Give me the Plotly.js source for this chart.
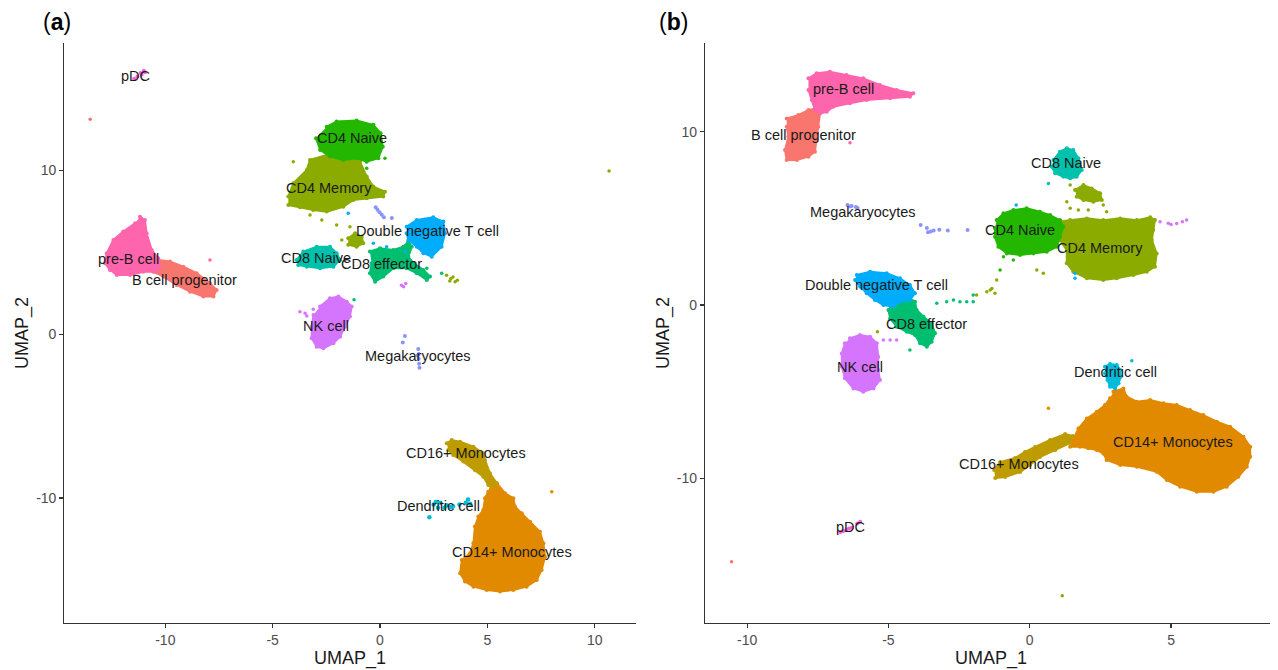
<!DOCTYPE html>
<html>
<head>
<meta charset="utf-8">
<script src="https://cdn.plot.ly/plotly-3.0.1.min.js"></script>
<style>html,body{margin:0;padding:0;background:#fff;}#chart{width:1278px;height:670px;}</style>
</head>
<body>
<div id="chart"></div>
<script>
// ---------------- Panel (a): cluster outlines (UMAP_1, UMAP_2) ----------------
const A_preB_x = [-11.18,-10.95,-10.87,-10.63,-10.33,-10.25,-10.48,-11.02,-11.64,-12.26,-12.58,-12.81,-12.73,-12.42,-11.96,-11.41];
const A_preB_y = [7.18,6.98,6.17,5.15,4.64,4.13,3.82,3.82,3.62,3.62,3.93,4.34,4.95,5.76,6.27,6.78];
const A_bprog_x = [-10.33,-9.78,-9.16,-8.54,-7.92,-7.61,-7.76,-8.23,-8.85,-9.47,-10.09,-10.56,-10.48];
const A_bprog_y = [4.54,4.44,4.13,3.73,3.12,2.71,2.30,2.30,2.60,3.01,3.52,3.82,4.23];
const A_cd4m_x = [-4.27,-4.04,-3.41,-3.26,-2.48,-1.71,-0.93,-0.62,-0.31,0.23,0.15,-0.62,-1.24,-1.71,-2.48,-3.11,-3.73,-4.27];
const A_cd4m_y = [8.41,9.22,10.04,10.65,10.95,10.85,10.54,9.63,9.02,8.71,8.41,8.31,8.20,7.79,7.49,7.59,7.76,7.90];
const A_cd4m2_x = [-1.48,-1.16,-0.85,-0.78,-1.09,-1.48];
const A_cd4m2_y = [5.86,6.17,5.96,5.56,5.35,5.46];
const A_cd4n_x = [-2.48,-2.02,-1.09,-0.31,0.03,0.13,-0.08,-0.62,-1.09,-1.71,-2.33,-2.79,-2.98];
const A_cd4n_y = [12.68,12.99,13.05,12.79,12.28,11.46,10.75,10.54,10.75,10.65,10.85,11.26,11.97];
const A_dnt_x = [1.24,1.71,2.48,2.95,3.03,2.87,2.41,2.02,1.71,1.32,1.24];
const A_dnt_y = [6.57,6.98,7.15,6.88,6.17,5.35,4.74,4.95,5.35,5.76,6.17];
const A_cd8e_x = [-0.47,0,0.62,1.09,1.32,1.48,1.32,1.55,2.02,2.33,2.18,1.71,1.24,0.62,0.15,-0.23,-0.47,-0.39];
const A_cd8e_y = [5.05,5.25,5.15,5.35,5.66,5.35,4.74,4.34,3.93,3.52,3.32,3.73,4.03,4.03,3.52,3.21,3.73,4.34];
const A_cd8n_x = [-3.88,-3.57,-2.95,-2.33,-2.02,-1.86,-2.17,-2.79,-3.41,-3.81];
const A_cd8n_y = [4.54,5.05,5.35,5.35,4.95,4.54,4.13,4.03,4.13,4.23];
const A_nk_x = [-2.79,-2.33,-1.94,-1.55,-1.32,-1.40,-1.63,-1.86,-2.17,-2.64,-2.95,-3.18,-3.18,-3.10];
const A_nk_y = [1.69,2.20,2.30,1.99,1.69,1.08,0.46,-0.15,-0.55,-0.86,-0.76,-0.24,0.46,1.18];
const A_cd16_x = [3.11,3.34,3.73,4.35,4.81,4.89,5.12,5.44,5.28,5.04,4.81,4.42,3.88,3.41,3.18];
const A_cd16_y = [-6.66,-6.46,-6.56,-6.87,-7.27,-7.68,-8.49,-9.10,-9.31,-9.21,-8.70,-8.29,-7.78,-7.37,-7.07];
const A_cd14_x = [5.12,5.44,5.82,6.21,6.29,6.60,6.99,7.45,7.61,7.69,7.53,7.30,6.83,6.21,5.59,4.97,4.35,3.96,3.73,3.81,4.19,4.35,4.42,4.58,4.81,4.89,5.04];
const A_cd14_y = [-9.21,-9.10,-9.71,-10.02,-10.53,-10.93,-11.45,-12.06,-12.77,-13.59,-14.40,-15.01,-15.42,-15.62,-15.72,-15.62,-15.42,-15.11,-14.60,-13.79,-13.38,-12.77,-11.75,-11.14,-10.73,-10.02,-9.62];
// small clusters and single cells (a)
const A_pdc_x = [-11.0,-11.15,-11.3,-11.1,-10.95,-11.45];
const A_pdc_y = [16.1,15.95,15.75,15.85,16.0,15.6];
const A_mega_x = [-0.2,-0.12,-0.02,0.08,0.18,0.55,1.16,1.06,1.78,1.80,1.80,1.82,1.84,1.75];
const A_mega_y = [7.75,7.6,7.45,7.3,7.15,7.1,-0.10,-0.51,-0.9,-1.2,-1.5,-1.8,-2.05,-1.3];
const A_dc_x = [2.5,2.8,3.1,3.4,3.7,4.0,4.2,2.7,3.3,2.3,4.1,2.6,3.0];
const A_dc_y = [-10.4,-10.3,-10.45,-10.5,-10.4,-10.3,-10.35,-10.6,-10.55,-11.18,-10.1,-10.25,-10.6];
const A_sOlive_x = [10.67,3.1,3.3,3.5,3.4,3.6,3.25,-3.26,-2.71,-2.02,-1.40,-1.78,-4.04];
const A_sOlive_y = [9.97,3.6,3.4,3.2,3.5,3.3,3.25,7.29,6.98,6.68,6.57,5.76,10.54];
const A_sCd4n_x = [0.23,-0.62];
const A_sCd4n_y = [10.75,10.14];
const A_sSalmon_x = [-13.5];
const A_sSalmon_y = [13.13];
const A_sPreB_x = [-7.92];
const A_sPreB_y = [4.54];
const A_sDnt_x = [-1.48,-0.31,0.31,1.16];
const A_sDnt_y = [7.39,5.56,5.35,5.05];
const A_sCd8e_x = [2.18,2.87,-1.21];
const A_sCd8e_y = [4.03,3.73,2.10];
const A_sNk_x = [1.0,1.2,1.1,-3.73,-3.49,-3.41,-3.11];
const A_sNk_y = [3.0,3.1,2.9,1.38,1.28,1.12,1.53];
const A_sOrange_x = [8.0];
const A_sOrange_y = [-9.62];
// labels (a)
const A_lab = ["pDC","CD4 Naive","CD4 Memory","Double negative T cell","pre-B cell","CD8 Naive","CD8 effector","B cell progenitor","NK cell","Megakaryocytes","CD16+ Monocytes","Dendritic cell","CD14+ Monocytes"];
const A_lab_x = [-11.41,-1.30,-2.38,2.19,-11.70,-2.98,0.05,-9.10,-2.50,1.77,4.01,2.72,6.16];
const A_lab_y = [15.78,12.0,8.93,6.31,4.62,4.66,4.29,3.34,0.52,-1.32,-7.26,-10.48,-13.31];

// ---------------- Panel (b) ----------------
const B_preB_x = [-7.83,-7.54,-7.07,-6.48,-5.89,-5.30,-4.71,-4.12,-4.24,-4.94,-5.77,-6.36,-6.95,-7.18,-7.42,-7.60,-7.71,-7.83];
const B_preB_y = [13.08,13.37,13.46,13.27,13.08,12.70,12.41,12.22,12.02,11.93,11.83,11.64,11.44,11.15,11.06,11.25,11.83,12.41];
const B_bprog_x = [-8.60,-8.19,-7.83,-7.54,-7.42,-7.48,-7.54,-7.60,-7.83,-8.24,-8.60,-8.66,-8.54,-8.60];
const B_bprog_y = [10.77,10.96,11.25,11.35,11.06,10.29,9.52,8.85,8.56,8.37,8.37,8.94,9.71,10.29];
const B_cd8n_x = [0.84,1.07,1.31,1.54,1.72,1.84,1.66,1.43,1.19,0.90,0.78];
const B_cd8n_y = [8.37,8.85,9.04,8.94,8.47,7.79,7.40,7.31,7.40,7.60,7.98];
const B_cd4m2_x = [1.60,1.90,2.19,2.49,2.55,2.25,1.90,1.66];
const B_cd4m2_y = [6.64,6.92,6.73,6.45,6.06,5.96,6.06,6.25];
const B_cd4m_x = [0.96,1.43,2.02,2.60,3.20,3.79,4.26,4.43,4.37,4.32,4.49,4.43,4.14,3.67,3.08,2.60,2.02,1.54,1.31,1.31,1.07,0.90];
const B_cd4m_y = [4.81,4.90,5.00,4.90,5.00,4.90,5.06,4.90,4.33,3.75,2.98,2.21,1.92,1.73,1.54,1.44,1.54,1.92,2.41,3.17,3.75,4.33];
const B_cd4n_x = [-1.17,-0.93,-0.58,-0.11,0.36,0.72,1.07,1.19,1.07,0.96,0.60,0.13,-0.34,-0.81,-1.11,-1.23,-1.23];
const B_cd4n_y = [4.90,5.29,5.48,5.58,5.38,5.19,4.90,4.52,3.94,3.36,3.08,2.98,2.89,2.98,3.36,3.94,4.43];
const B_dnt_x = [-6.12,-5.65,-5.06,-4.59,-4.24,-4.06,-4.24,-4.59,-4.83,-5.18,-5.48,-5.77,-6.00,-6.18];
const B_dnt_y = [1.73,1.92,1.83,1.54,1.15,0.68,0.29,0.19,-0.10,0,0.29,0.68,1.06,1.44];
const B_cd8e_x = [-4.94,-4.59,-4.24,-4.06,-4.00,-3.76,-3.47,-3.35,-3.47,-3.64,-3.88,-4.06,-4.35,-4.71,-4.94,-5.00];
const B_cd8e_y = [0.10,0.29,0.39,0.19,-0.29,-0.68,-1.06,-1.63,-2.12,-2.41,-2.21,-1.73,-1.54,-1.25,-0.77,-0.29];
const B_nk_x = [-6.36,-6.01,-5.65,-5.41,-5.36,-5.36,-5.30,-5.53,-5.89,-6.24,-6.54,-6.65,-6.65,-6.54];
const B_nk_y = [-1.92,-1.73,-1.83,-2.21,-2.98,-3.75,-4.33,-4.81,-5.00,-4.81,-4.23,-3.56,-2.79,-2.21];
const B_dc_x = [2.66,2.84,3.08,3.20,3.22,3.14,3.02,2.84,2.75,2.66];
const B_dc_y = [-3.56,-3.40,-3.46,-3.75,-4.14,-4.52,-4.81,-4.71,-4.33,-3.94];
const B_cd14_x = [2.96,3.31,3.43,3.79,4.26,4.73,5.20,5.67,6.14,6.62,7.09,7.56,7.80,7.80,7.68,7.38,6.97,6.50,5.91,5.32,4.85,4.49,3.79,3.20,2.72,2.60,2.37,2.07,1.78,1.43,1.54,1.72,2.02,2.37,2.66,2.84];
const B_cd14_y = [-5.00,-4.81,-5.29,-5.58,-5.48,-5.67,-5.77,-6.06,-6.35,-6.73,-7.02,-7.60,-8.18,-8.75,-9.33,-9.91,-10.48,-10.77,-10.77,-10.48,-10.10,-9.62,-9.33,-9.23,-8.94,-8.56,-8.37,-8.27,-8.18,-8.18,-7.79,-7.12,-6.54,-6.16,-5.77,-5.38];
const B_cd16_x = [-1.26,-1.05,-0.52,-0.17,0.19,0.72,1.25,1.53,1.43,0.90,0.36,0.01,-0.34,-0.87,-1.22];
const B_cd16_y = [-9.52,-9.06,-8.83,-8.48,-8.19,-7.79,-7.44,-7.56,-7.96,-8.37,-8.77,-9.23,-9.64,-9.92,-9.98];
// small clusters and single cells (b)
const B_pdc_x = [-6.7,-6.5,-6.3,-6.1,-6.0,-6.4,-6.6];
const B_pdc_y = [-13.1,-13.0,-12.85,-12.6,-12.5,-12.9,-13.05];
const B_mega_x = [-6.45,-6.3,-6.15,-6.09,-6.35,-3.86,-3.64,-3.4,-3.2,-2.9,-2.2,-3.6,-3.5];
const B_mega_y = [5.77,5.72,5.65,5.6,5.68,4.62,4.44,4.3,4.35,4.3,4.33,4.2,4.25];
const B_sOlive_x = [-1.17,-1.40,-1.88,0.25,0.48,-1.52,-1.34,-1.23,1.43,1.31,1.43,1.72,2.07,2.60,2.72,1.15,-5.39];
const B_sOlive_y = [1.44,0.87,0.58,2.02,1.83,0.77,0.96,0.68,6.92,5.96,5.58,5.48,5.48,5.77,5.38,-16.77,-1.54];
const B_sCd4n_x = [-0.93,-1.05,-0.58];
const B_sCd4n_y = [2.79,2.02,2.60];
const B_sCd8e_x = [-3.29,-2.94,-2.70,-2.47,-2.23,-2.00,-2.00,-4.24];
const B_sCd8e_y = [0.10,0.19,0.29,0.19,0.19,0.19,0.58,-2.60];
const B_sDnt_x = [-0.48,1.60,1.60];
const B_sDnt_y = [5.77,1.83,1.54];
const B_sCd8n_x = [0.66];
const B_sCd8n_y = [7.02];
const B_sNk_x = [4.61,4.9,5.2,5.4,5.55,5.0,-5.18,-4.94,-4.71];
const B_sNk_y = [4.81,4.72,4.7,4.8,4.9,4.65,-2.02,-2.02,-2.02];
const B_sPreB_x = [-6.36];
const B_sPreB_y = [9.37];
const B_sSalmon_x = [-10.55];
const B_sSalmon_y = [-14.81];
const B_sOrange_x = [0.66];
const B_sOrange_y = [-5.96];
const B_sDc_x = [3.61];
const B_sDc_y = [-3.21];
// labels (b)
const B_lab = ["pre-B cell","B cell progenitor","CD8 Naive","Megakaryocytes","CD4 Naive","CD4 Memory","Double negative T cell","CD8 effector","NK cell","Dendritic cell","CD14+ Monocytes","CD16+ Monocytes","pDC"];
const B_lab_x = [-6.6,-8.0,1.28,-5.90,-0.34,2.49,-5.41,-3.64,-6.0,3.05,5.08,-0.37,-6.33];
const B_lab_y = [12.45,9.81,8.21,5.38,4.33,3.27,1.15,-1.10,-3.60,-3.85,-7.89,-9.17,-12.83];

// ticks
const A_xticks = [-10,-5,0,5,10];
const B_xticks = [-10,-5,0,5];
const Y_ticks = [-10,0,10];

// ---------------- styles ----------------
const C = {
  bprog:'#F8766D', cd14:'#E18A00', cd16:'#BE9C00', cd4m:'#8CAB00', cd4n:'#24B700',
  cd8e:'#00BE70', cd8n:'#00C1AB', dc:'#00BBDA', dnt:'#00ACFC', mega:'#8B93FF',
  nk:'#D575FE', pdc:'#F962DD', preB:'#FF65AC'
};
const traces = [];
function poly(ax, xs, ys, col){
  traces.push({type:'scatter', mode:'lines+markers', x:xs, y:ys, xaxis:'x'+ax, yaxis:'y'+ax,
    fill:'toself', fillcolor:col, line:{color:col, width:2}, marker:{color:col, size:4},
    hoverinfo:'skip', showlegend:false});
}
function pts(ax, xs, ys, col, sz){
  traces.push({type:'scatter', mode:'markers', x:xs, y:ys, xaxis:'x'+ax, yaxis:'y'+ax,
    marker:{color:col, size:sz||3.5, line:{width:0}}, hoverinfo:'skip', showlegend:false});
}
// panel a
poly('', A_bprog_x, A_bprog_y, C.bprog);
poly('', A_preB_x, A_preB_y, C.preB);
poly('', A_cd4m_x, A_cd4m_y, C.cd4m);
poly('', A_cd4n_x, A_cd4n_y, C.cd4n);
poly('', A_cd4m2_x, A_cd4m2_y, C.cd4m);
poly('', A_cd8n_x, A_cd8n_y, C.cd8n);
poly('', A_cd8e_x, A_cd8e_y, C.cd8e);
poly('', A_dnt_x, A_dnt_y, C.dnt);
poly('', A_nk_x, A_nk_y, C.nk);
poly('', A_cd14_x, A_cd14_y, C.cd14);
poly('', A_cd16_x, A_cd16_y, C.cd16);
pts('', A_pdc_x, A_pdc_y, C.pdc, 4);
pts('', A_mega_x, A_mega_y, C.mega, 4);
pts('', A_dc_x, A_dc_y, C.dc, 4.5);
pts('', A_sOlive_x, A_sOlive_y, C.cd4m);
pts('', A_sCd4n_x, A_sCd4n_y, C.cd4n);
pts('', A_sSalmon_x, A_sSalmon_y, C.bprog);
pts('', A_sPreB_x, A_sPreB_y, C.preB);
pts('', A_sDnt_x, A_sDnt_y, C.dnt);
pts('', A_sCd8e_x, A_sCd8e_y, C.cd8e);
pts('', A_sNk_x, A_sNk_y, C.nk);
pts('', A_sOrange_x, A_sOrange_y, C.cd14);
// panel b
poly('2', B_bprog_x, B_bprog_y, C.bprog);
poly('2', B_preB_x, B_preB_y, C.preB);
poly('2', B_cd8n_x, B_cd8n_y, C.cd8n);
poly('2', B_cd4m2_x, B_cd4m2_y, C.cd4m);
poly('2', B_cd4m_x, B_cd4m_y, C.cd4m);
poly('2', B_cd4n_x, B_cd4n_y, C.cd4n);
poly('2', B_cd8e_x, B_cd8e_y, C.cd8e);
poly('2', B_dnt_x, B_dnt_y, C.dnt);
poly('2', B_nk_x, B_nk_y, C.nk);
poly('2', B_cd14_x, B_cd14_y, C.cd14);
poly('2', B_cd16_x, B_cd16_y, C.cd16);
poly('2', B_dc_x, B_dc_y, C.dc);
pts('2', B_pdc_x, B_pdc_y, C.pdc, 4);
pts('2', B_mega_x, B_mega_y, C.mega, 4);
pts('2', B_sOlive_x, B_sOlive_y, C.cd4m);
pts('2', B_sCd4n_x, B_sCd4n_y, C.cd4n);
pts('2', B_sCd8e_x, B_sCd8e_y, C.cd8e);
pts('2', B_sDnt_x, B_sDnt_y, C.dnt);
pts('2', B_sCd8n_x, B_sCd8n_y, C.cd8n);
pts('2', B_sNk_x, B_sNk_y, C.nk);
pts('2', B_sPreB_x, B_sPreB_y, C.preB);
pts('2', B_sSalmon_x, B_sSalmon_y, C.bprog);
pts('2', B_sOrange_x, B_sOrange_y, C.cd14);
pts('2', B_sDc_x, B_sDc_y, C.dc);

const FONT = 'Liberation Sans, Arial, Helvetica, sans-serif';
const annotations = [];
A_lab.forEach((t,i)=>annotations.push({x:A_lab_x[i], y:A_lab_y[i], xref:'x', yref:'y', text:t, showarrow:false,
  font:{family:FONT, size:14.5, color:'#1a1a1a'}, xanchor:'center', yanchor:'middle'}));
B_lab.forEach((t,i)=>annotations.push({x:B_lab_x[i], y:B_lab_y[i], xref:'x2', yref:'y2', text:t, showarrow:false,
  font:{family:FONT, size:14.5, color:'#1a1a1a'}, xanchor:'center', yanchor:'middle'}));
// panel letters and axis titles
annotations.push({x:57/1278, y:1-22/670, xref:'paper', yref:'paper', text:'(<b>a</b>)', showarrow:false,
  font:{family:FONT, size:23, color:'#000'}, xanchor:'center', yanchor:'middle'});
annotations.push({x:673/1278, y:1-22/670, xref:'paper', yref:'paper', text:'(<b>b</b>)', showarrow:false,
  font:{family:FONT, size:23, color:'#000'}, xanchor:'center', yanchor:'middle'});
annotations.push({x:350/1278, y:1-658/670, xref:'paper', yref:'paper', text:'UMAP_1', showarrow:false,
  font:{family:FONT, size:18, color:'#1a1a1a'}, xanchor:'center', yanchor:'middle'});
annotations.push({x:991/1278, y:1-658/670, xref:'paper', yref:'paper', text:'UMAP_1', showarrow:false,
  font:{family:FONT, size:18, color:'#1a1a1a'}, xanchor:'center', yanchor:'middle'});
annotations.push({x:22/1278, y:1-333/670, xref:'paper', yref:'paper', text:'UMAP_2', showarrow:false, textangle:-90,
  font:{family:FONT, size:18, color:'#1a1a1a'}, xanchor:'center', yanchor:'middle'});
annotations.push({x:663/1278, y:1-333/670, xref:'paper', yref:'paper', text:'UMAP_2', showarrow:false, textangle:-90,
  font:{family:FONT, size:18, color:'#1a1a1a'}, xanchor:'center', yanchor:'middle'});

const axBase = {showgrid:false, zeroline:false, showline:true, linecolor:'#333', linewidth:1.2,
  ticks:'outside', ticklen:4, tickwidth:1.2, tickcolor:'#333',
  tickfont:{family:FONT, size:14, color:'#4d4d4d'}, fixedrange:true};
const yDom = [(670-622.7)/670, (670-43)/670];
const layout = {
  width:1278, height:670, margin:{l:0,r:0,t:0,b:0}, paper_bgcolor:'#fff', plot_bgcolor:'#fff',
  showlegend:false, annotations:annotations,
  xaxis:Object.assign({}, axBase, {domain:[64.4/1278, 635.5/1278], range:[-14.70,11.90], anchor:'y',
    tickmode:'array', tickvals:A_xticks, ticktext:A_xticks.map(String)}),
  yaxis:Object.assign({}, axBase, {domain:yDom, range:[-17.62,17.79], anchor:'x',
    tickmode:'array', tickvals:Y_ticks, ticktext:Y_ticks.map(String)}),
  xaxis2:Object.assign({}, axBase, {domain:[705/1278, 1270/1278], range:[-11.49,8.50], anchor:'y2',
    tickmode:'array', tickvals:B_xticks, ticktext:B_xticks.map(String)}),
  yaxis2:Object.assign({}, axBase, {domain:yDom, range:[-18.33,15.12], anchor:'x2',
    tickmode:'array', tickvals:Y_ticks, ticktext:Y_ticks.map(String)})
};
Plotly.newPlot('chart', traces, layout, {staticPlot:true, displayModeBar:false});
</script>
</body>
</html>
